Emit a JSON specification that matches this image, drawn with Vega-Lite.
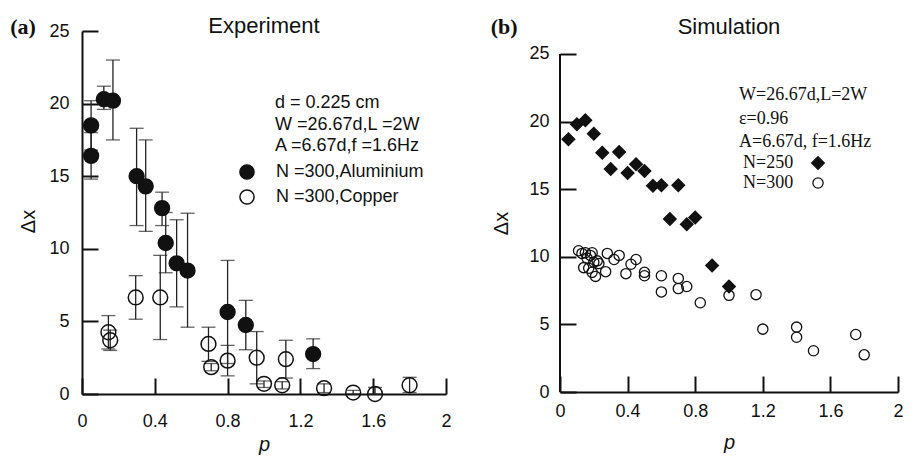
{
  "$schema": "https://vega.github.io/schema/vega-lite/v6.json",
  "background": "white",
  "padding": {"left": 10, "top": 15, "right": 5, "bottom": 2},
  "spacing": 38,
  "resolve": {"scale": {"fill": "independent", "shape": "independent", "size": "independent"}, "legend": {"fill": "independent", "shape": "independent", "size": "independent"}},
  "datasets": {
    "exp": [
      {"series": "N =300,Aluminium", "p": 0.05, "dx": 16.4, "lo": 14.8, "hi": 18.0},
      {"series": "N =300,Aluminium", "p": 0.05, "dx": 18.5, "lo": 16.8, "hi": 20.2},
      {"series": "N =300,Aluminium", "p": 0.12, "dx": 20.3, "lo": 19.6, "hi": 21.2},
      {"series": "N =300,Aluminium", "p": 0.17, "dx": 20.2, "lo": 17.5, "hi": 23.0},
      {"series": "N =300,Aluminium", "p": 0.3, "dx": 15.0, "lo": 11.6, "hi": 18.3},
      {"series": "N =300,Aluminium", "p": 0.35, "dx": 14.3, "lo": 11.2, "hi": 17.5},
      {"series": "N =300,Aluminium", "p": 0.44, "dx": 12.8, "lo": 11.6, "hi": 13.9},
      {"series": "N =300,Aluminium", "p": 0.46, "dx": 10.4, "lo": 8.35, "hi": 12.5},
      {"series": "N =300,Aluminium", "p": 0.52, "dx": 9.0, "lo": 6.0, "hi": 12.0},
      {"series": "N =300,Aluminium", "p": 0.58, "dx": 8.5, "lo": 4.6, "hi": 12.45},
      {"series": "N =300,Aluminium", "p": 0.8, "dx": 5.65, "lo": 2.1, "hi": 9.2},
      {"series": "N =300,Aluminium", "p": 0.9, "dx": 4.75, "lo": 3.05, "hi": 6.45},
      {"series": "N =300,Aluminium", "p": 1.27, "dx": 2.75, "lo": 1.75, "hi": 3.8},
      {"series": "N =300,Copper", "p": 0.145, "dx": 4.25, "lo": 3.1, "hi": 5.4},
      {"series": "N =300,Copper", "p": 0.155, "dx": 3.7, "lo": 3.0, "hi": 4.4},
      {"series": "N =300,Copper", "p": 0.295, "dx": 6.65, "lo": 5.15, "hi": 8.15},
      {"series": "N =300,Copper", "p": 0.43, "dx": 6.65, "lo": 3.75, "hi": 9.55},
      {"series": "N =300,Copper", "p": 0.695, "dx": 3.45, "lo": 2.25, "hi": 4.6},
      {"series": "N =300,Copper", "p": 0.71, "dx": 1.85, "lo": 1.6, "hi": 2.1},
      {"series": "N =300,Copper", "p": 0.8, "dx": 2.3, "lo": 1.25, "hi": 3.35},
      {"series": "N =300,Copper", "p": 0.96, "dx": 2.5, "lo": 0.7, "hi": 4.3},
      {"series": "N =300,Copper", "p": 1.0, "dx": 0.7, "lo": 0.45, "hi": 0.9},
      {"series": "N =300,Copper", "p": 1.1, "dx": 0.6, "lo": 0.35, "hi": 0.85},
      {"series": "N =300,Copper", "p": 1.12, "dx": 2.4, "lo": 1.1, "hi": 3.7},
      {"series": "N =300,Copper", "p": 1.33, "dx": 0.4, "lo": 0.1, "hi": 0.7},
      {"series": "N =300,Copper", "p": 1.49, "dx": 0.1, "lo": 0.0, "hi": 0.25},
      {"series": "N =300,Copper", "p": 1.61, "dx": 0.0, "lo": 0.0, "hi": 0.45},
      {"series": "N =300,Copper", "p": 1.8, "dx": 0.6, "lo": 0.1, "hi": 1.15}
    ],
    "sim": [
      {"series": "N=250", "p": 0.05, "dx": 18.7},
      {"series": "N=250", "p": 0.1, "dx": 19.8},
      {"series": "N=250", "p": 0.15, "dx": 20.1},
      {"series": "N=250", "p": 0.2, "dx": 19.1},
      {"series": "N=250", "p": 0.25, "dx": 17.7},
      {"series": "N=250", "p": 0.3, "dx": 16.5},
      {"series": "N=250", "p": 0.35, "dx": 17.75},
      {"series": "N=250", "p": 0.4, "dx": 16.2},
      {"series": "N=250", "p": 0.45, "dx": 16.85},
      {"series": "N=250", "p": 0.5, "dx": 16.35},
      {"series": "N=250", "p": 0.55, "dx": 15.25},
      {"series": "N=250", "p": 0.6, "dx": 15.3},
      {"series": "N=250", "p": 0.65, "dx": 12.8},
      {"series": "N=250", "p": 0.7, "dx": 15.3},
      {"series": "N=250", "p": 0.75, "dx": 12.4},
      {"series": "N=250", "p": 0.8, "dx": 12.9},
      {"series": "N=250", "p": 0.9, "dx": 9.35},
      {"series": "N=250", "p": 1.0, "dx": 7.8},
      {"series": "N=300", "p": 0.11, "dx": 10.45},
      {"series": "N=300", "p": 0.13, "dx": 10.25},
      {"series": "N=300", "p": 0.15, "dx": 10.3},
      {"series": "N=300", "p": 0.14, "dx": 9.2},
      {"series": "N=300", "p": 0.16, "dx": 9.9},
      {"series": "N=300", "p": 0.17, "dx": 9.15},
      {"series": "N=300", "p": 0.18, "dx": 10.1},
      {"series": "N=300", "p": 0.19, "dx": 10.3},
      {"series": "N=300", "p": 0.19, "dx": 8.85},
      {"series": "N=300", "p": 0.2, "dx": 9.6},
      {"series": "N=300", "p": 0.21, "dx": 8.55},
      {"series": "N=300", "p": 0.22, "dx": 9.7},
      {"series": "N=300", "p": 0.23, "dx": 9.5},
      {"series": "N=300", "p": 0.27, "dx": 8.9},
      {"series": "N=300", "p": 0.28, "dx": 10.25},
      {"series": "N=300", "p": 0.32, "dx": 9.8},
      {"series": "N=300", "p": 0.35, "dx": 10.1},
      {"series": "N=300", "p": 0.39, "dx": 8.75},
      {"series": "N=300", "p": 0.42, "dx": 9.45},
      {"series": "N=300", "p": 0.45, "dx": 9.8},
      {"series": "N=300", "p": 0.5, "dx": 8.85},
      {"series": "N=300", "p": 0.5, "dx": 8.6},
      {"series": "N=300", "p": 0.6, "dx": 8.6},
      {"series": "N=300", "p": 0.6, "dx": 7.4},
      {"series": "N=300", "p": 0.7, "dx": 8.4},
      {"series": "N=300", "p": 0.7, "dx": 7.65},
      {"series": "N=300", "p": 0.75, "dx": 7.8},
      {"series": "N=300", "p": 0.83, "dx": 6.6},
      {"series": "N=300", "p": 1.0, "dx": 7.15},
      {"series": "N=300", "p": 1.16, "dx": 7.2},
      {"series": "N=300", "p": 1.2, "dx": 4.65},
      {"series": "N=300", "p": 1.4, "dx": 4.8},
      {"series": "N=300", "p": 1.4, "dx": 4.05},
      {"series": "N=300", "p": 1.5, "dx": 3.05},
      {"series": "N=300", "p": 1.75, "dx": 4.25},
      {"series": "N=300", "p": 1.8, "dx": 2.75}
    ]
  },
  "hconcat": [
    {
      "width": 364,
      "height": 363,
      "data": {"name": "exp"},
      "layer": [
        {
          "mark": {"type": "rule", "color": "#222", "strokeWidth": 1.3},
          "encoding": {
            "x": {"field": "p", "type": "quantitative", "title": "p",
              "scale": {"domain": [0, 2], "nice": false},
              "axis": {
                "values": [0, 0.2, 0.4, 0.6, 0.8, 1, 1.2, 1.4, 1.6, 1.8, 2],
                "format": ".1~f",
                "labelExpr": "abs(datum.value*2.5 - round(datum.value*2.5)) < 0.001 ? datum.label : ''",
                "tickSize": {"condition": {"test": "abs(datum.value*2.5 - round(datum.value*2.5)) < 0.001", "value": -16}, "value": -8},
                "labelPadding": 34, "titlePadding": 4
              }
            },
            "y": {"field": "lo", "type": "quantitative", "title": "Δx",
              "scale": {"domain": [0, 25], "nice": false},
              "axis": {
                "values": [0, 2.5, 5, 7.5, 10, 12.5, 15, 17.5, 20, 22.5, 25],
                "format": "~g",
                "labelExpr": "datum.value % 5 == 0 ? datum.label : ''",
                "tickSize": {"condition": {"test": "datum.value % 5 == 0", "value": -16}, "value": -8},
                "labelPadding": 29, "titlePadding": 10, "titleY": 190
              }
            },
            "y2": {"field": "hi"}
          }
        },
        {
          "mark": {"type": "tick", "orient": "horizontal", "size": 14, "thickness": 1.3, "color": "#222"},
          "encoding": {
            "x": {"field": "p", "type": "quantitative", "title": "p"},
            "y": {"field": "lo", "type": "quantitative", "title": "Δx"}
          }
        },
        {
          "mark": {"type": "tick", "orient": "horizontal", "size": 14, "thickness": 1.3, "color": "#222"},
          "encoding": {
            "x": {"field": "p", "type": "quantitative", "title": "p"},
            "y": {"field": "hi", "type": "quantitative", "title": "Δx"}
          }
        },
        {
          "mark": {"type": "point", "shape": "circle", "filled": true, "size": 220, "stroke": "#111", "strokeWidth": 1.5, "opacity": 1},
          "encoding": {
            "x": {"field": "p", "type": "quantitative", "title": "p"},
            "y": {"field": "dx", "type": "quantitative", "title": "Δx"},
            "fill": {"field": "series", "type": "nominal",
              "scale": {"domain": ["N =300,Aluminium", "N =300,Copper"], "range": ["#111111", "transparent"]},
              "legend": {
                "orient": "none", "legendX": 193, "legendY": 63,
                "title": ["d = 0.225 cm", "W =26.67d,L =2W", "A =6.67d,f =1.6Hz"],
                "titleFont": "Liberation Sans", "titleFontSize": 18, "titleFontWeight": "normal",
                "titleLineHeight": 21.5, "titlePadding": 8, "titleBaseline": "top",
                "labelFont": "Liberation Sans", "labelFontSize": 18, "labelColor": "#111",
                "symbolType": "circle", "symbolSize": 200, "symbolStrokeColor": "#111", "symbolStrokeWidth": 1.5,
                "symbolOffset": -37, "labelOffset": 20, "rowPadding": 3, "padding": 0
              }
            }
          }
        },
        {
          "data": {"values": [{}]},
          "mark": {"type": "text", "text": "(a)", "font": "Liberation Serif", "fontWeight": "bold", "fontSize": 22, "align": "center", "baseline": "middle", "color": "#111"},
          "encoding": {
            "x": {"datum": -0.324, "type": "quantitative"},
            "y": {"datum": 25.3, "type": "quantitative"}
          }
        },
        {
          "data": {"values": [{}]},
          "mark": {"type": "text", "text": "Experiment", "font": "Liberation Sans", "fontSize": 22, "align": "center", "baseline": "alphabetic", "color": "#111"},
          "encoding": {
            "x": {"datum": 1.0, "type": "quantitative"},
            "y": {"datum": 24.85, "type": "quantitative"}
          }
        }
      ]
    },
    {
      "width": 338,
      "height": 361,
      "data": {"name": "sim"},
      "layer": [
        {
          "mark": {"type": "point", "filled": true, "stroke": "#111", "strokeWidth": 1.3, "opacity": 1},
          "encoding": {
            "x": {"field": "p", "type": "quantitative", "title": "p",
              "scale": {"domain": [0, 2], "nice": false},
              "axis": {
                "values": [0, 0.2, 0.4, 0.6, 0.8, 1, 1.2, 1.4, 1.6, 1.8, 2],
                "format": ".1~f",
                "labelExpr": "abs(datum.value*2.5 - round(datum.value*2.5)) < 0.001 ? datum.label : ''",
                "tickSize": {"condition": {"test": "abs(datum.value*2.5 - round(datum.value*2.5)) < 0.001", "value": -16}, "value": -8},
                "labelPadding": 26, "titlePadding": 12
              }
            },
            "y": {"field": "dx", "type": "quantitative", "title": "Δx",
              "scale": {"domain": [0, 26.7], "nice": false},
              "axis": {
                "values": [0, 2.5, 5, 7.5, 10, 12.5, 15, 17.5, 20, 22.5, 25],
                "format": "~g",
                "labelExpr": "datum.value % 5 == 0 ? datum.label : ''",
                "tickSize": {"condition": {"test": "datum.value % 5 == 0", "value": -16}, "value": -8},
                "labelPadding": 27, "titlePadding": 17, "domain": false, "titleY": 192
              }
            },
            "shape": {"field": "series", "type": "nominal",
              "scale": {"domain": ["N=250", "N=300"], "range": ["diamond", "circle"]},
              "legend": {
                "orient": "none", "legendX": 179, "legendY": 55,
                "title": ["W=26.67d,L=2W", "ε=0.96", "A=6.67d, f=1.6Hz"],
                "titleFont": "Liberation Serif", "titleFontSize": 18, "titleFontWeight": "normal",
                "titleLineHeight": 23.5, "titlePadding": 3, "titleBaseline": "top",
                "labelFont": "Liberation Serif", "labelFontSize": 18, "labelColor": "#111",
                "symbolStrokeColor": "#111", "symbolStrokeWidth": 1.3,
                "symbolOffset": 70, "labelOffset": -84, "rowPadding": 2, "padding": 0
              }
            },
            "fill": {"field": "series", "type": "nominal",
              "scale": {"domain": ["N=250", "N=300"], "range": ["#111111", "transparent"]}
            },
            "size": {"field": "series", "type": "nominal",
              "scale": {"domain": ["N=250", "N=300"], "range": [160, 105]}
            }
          }
        },
        {
          "data": {"values": [{}]},
          "mark": {"type": "rule", "color": "#111", "strokeWidth": 2},
          "encoding": {
            "x": {"datum": 0, "type": "quantitative"},
            "y": {"datum": 0, "type": "quantitative"},
            "y2": {"datum": 25}
          }
        },
        {
          "data": {"values": [{}]},
          "mark": {"type": "text", "text": "(b)", "font": "Liberation Serif", "fontWeight": "bold", "fontSize": 22, "align": "center", "baseline": "middle", "color": "#111"},
          "encoding": {
            "x": {"datum": -0.33, "type": "quantitative"},
            "y": {"datum": 27.0, "type": "quantitative"}
          }
        },
        {
          "data": {"values": [{}]},
          "mark": {"type": "text", "text": "Simulation", "font": "Liberation Sans", "fontSize": 22, "align": "center", "baseline": "alphabetic", "color": "#111"},
          "encoding": {
            "x": {"datum": 1.0, "type": "quantitative"},
            "y": {"datum": 26.5, "type": "quantitative"}
          }
        }
      ]
    }
  ],
  "config": {
    "view": {"stroke": null},
    "axis": {
      "grid": false,
      "domainColor": "#111", "domainWidth": 2,
      "tickColor": "#111", "tickWidth": 2,
      "labelColor": "#111", "labelFont": "Liberation Sans", "labelFontSize": 18,
      "labelFlush": false, "labelOverlap": false,
      "titleColor": "#111", "titleFont": "Liberation Sans", "titleFontSize": 20, "titleFontWeight": "normal"
    },
    "axisX": {"titleFontStyle": "italic"},
    "legend": {"titleColor": "#111"}
  }
}
